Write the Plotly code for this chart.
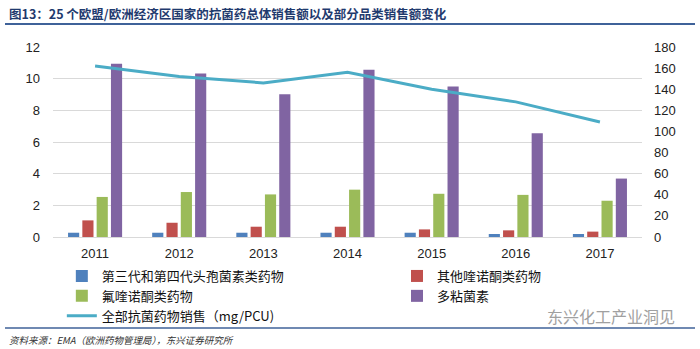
import plotly.graph_objects as go

years = ["2011", "2012", "2013", "2014", "2015", "2016", "2017"]
ceph34 = [0.27, 0.27, 0.27, 0.27, 0.27, 0.19, 0.19]
other_quin = [1.05, 0.90, 0.65, 0.65, 0.48, 0.42, 0.34]
fluoroquin = [2.53, 2.84, 2.69, 2.99, 2.73, 2.66, 2.29]
polymyxins = [10.95, 10.32, 9.01, 10.57, 9.50, 6.56, 3.69]
total_mgpcu = [162, 152, 146, 156, 140, 128, 109]

names = ["第三代和第四代头孢菌素类药物", "其他喹诺酮类药物", "氟喹诺酮类药物", "多粘菌素",
         "全部抗菌药物销售（mg/PCU)"]
colors = ["#4F81BD", "#C0504D", "#9BBB59", "#8064A2", "#4BACC6"]

FONT = "Liberation Sans, Arial, Noto Sans CJK SC, sans-serif"
CJK = "Noto Sans CJK SC, sans-serif"

fig = go.Figure()
series = [ceph34, other_quin, fluoroquin, polymyxins]
legends = ["legend", "legend2", "legend", "legend2"]
for vals, nm, col, lg in zip(series, names[:4], colors[:4], legends):
    fig.add_trace(go.Bar(x=years, y=vals, name=nm, marker=dict(color=col, line=dict(width=0)),
                         legend=lg, yaxis="y"))
fig.add_trace(go.Scatter(x=years, y=total_mgpcu, name=names[4], mode="lines",
                         line=dict(color=colors[4], width=3), yaxis="y2", legend="legend"))

grid = "#D9D9D9"
leg_common = dict(yref="container", xanchor="left", yanchor="top", orientation="v",
                  bgcolor="rgba(0,0,0,0)", font=dict(family=CJK, size=13, color="#111"),
                  tracegroupgap=0, itemwidth=30)
fig.update_layout(
    width=700, height=349,
    margin=dict(l=53, r=58, t=47, b=112, autoexpand=False),
    paper_bgcolor="white", plot_bgcolor="white",
    barmode="group", bargap=0.32, bargroupgap=0.22,
    font=dict(family=FONT, size=13, color="#222"),
    xaxis=dict(type="category", showgrid=False, showline=False, ticks="",
               tickfont=dict(size=13, color="#222"), ticklabelstandoff=7),
    yaxis=dict(range=[0, 12], dtick=2, showgrid=True, gridcolor=grid, gridwidth=1,
               zeroline=True, zerolinecolor=grid, zerolinewidth=1, showline=False,
               ticks="", tickfont=dict(size=13, color="#222"), ticklabelstandoff=12),
    yaxis2=dict(range=[0, 180], dtick=20, overlaying="y", side="right", showgrid=False,
                zeroline=False, showline=False, ticks="",
                tickfont=dict(size=13, color="#222"), ticklabelstandoff=11),
    legend=dict(x=0.015, y=1 - 261 / 349, **leg_common),
    legend2=dict(x=0.584, y=1 - 261 / 349, **leg_common),
    showlegend=True,
)

fig.add_annotation(text="<b>图13：25 个欧盟/欧洲经济区国家的抗菌药总体销售额以及部分品类销售额变化</b>",
                   xref="paper", yref="paper", x=-46/589, y=1 + (47 - 14) / 190,
                   xanchor="left", yanchor="middle",
                   font=dict(family=CJK, size=12.5, color="#1F3A6E"), showarrow=False)
fig.add_shape(type="line", xref="paper", yref="paper", x0=-48/589, x1=(695-53)/589,
              y0=1 + (47 - 24) / 190, y1=1 + (47 - 24) / 190,
              line=dict(color="#3F6299", width=2))
fig.add_shape(type="line", xref="paper", yref="paper", x0=-48/589, x1=(695-53)/589,
              y0=-(328 - 237) / 190, y1=-(328 - 237) / 190,
              line=dict(color="#3F6299", width=1.5))
fig.add_annotation(text="<i>资料来源：EMA（欧洲药物管理局），东兴证券研究所</i>",
                   xref="paper", yref="paper", x=-46/589, y=-(340 - 237) / 190,
                   xanchor="left", yanchor="middle",
                   font=dict(family=CJK, size=9.5, color="#333"), showarrow=False)
fig.add_annotation(text="东兴化工产业洞见",
                   xref="paper", yref="paper", x=(677-53)/589, y=-(316 - 237) / 190,
                   xanchor="right", yanchor="middle",
                   font=dict(family=CJK, size=16, color="#A0A0A0"), showarrow=False)

fig.write_html("out.html")
